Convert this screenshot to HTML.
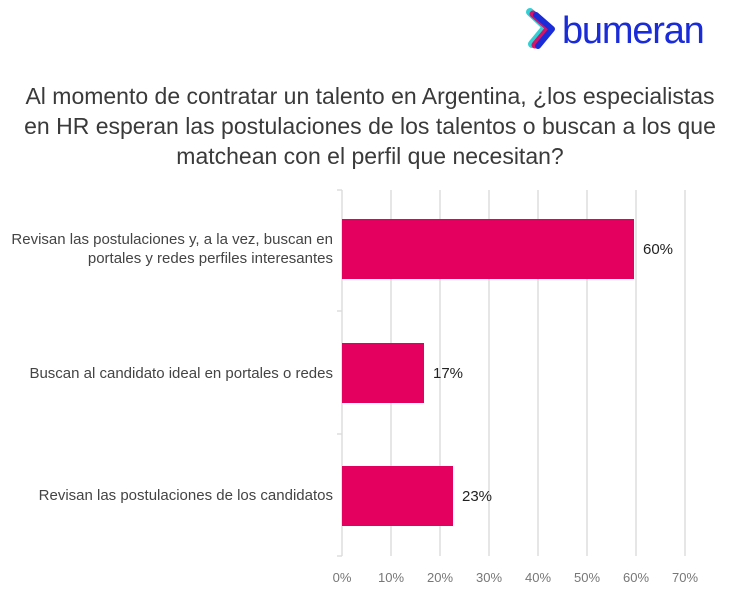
<html><head><style>
body{margin:0;width:730px;height:595px;background:#fff;font-family:"Liberation Sans",sans-serif;overflow:hidden;position:relative}
.t{position:absolute;left:0;width:740px;text-align:center;font-size:23px;color:#3a3a3a;line-height:30px;top:81px}
.l{position:absolute;font-size:15px;color:#444;text-align:right;line-height:19px}
.v{position:absolute;font-size:15px;color:#222}
.x{position:absolute;top:570px;font-size:13px;color:#777;width:40px;text-align:center}
</style></head><body>
<svg width="730" height="595" style="position:absolute;left:0;top:0">
<g stroke="#d9d9d9" stroke-width="1.3">
<line x1="391" y1="190" x2="391" y2="556"/><line x1="440" y1="190" x2="440" y2="556"/><line x1="489" y1="190" x2="489" y2="556"/><line x1="538" y1="190" x2="538" y2="556"/><line x1="587" y1="190" x2="587" y2="556"/><line x1="636" y1="190" x2="636" y2="556"/><line x1="685" y1="190" x2="685" y2="556"/>
<line x1="342" y1="190" x2="342" y2="556"/>
<line x1="337" y1="190" x2="342" y2="190"/><line x1="337" y1="311" x2="342" y2="311"/><line x1="337" y1="434" x2="342" y2="434"/><line x1="337" y1="556" x2="342" y2="556"/>
</g>
<g fill="#e3005f">
<rect x="342" y="219" width="292" height="60"/>
<rect x="342" y="343" width="82" height="60"/>
<rect x="342" y="466" width="111" height="60"/>
</g>
<path d="M530 12 L546 27 L532 44" fill="none" stroke="#2fd1d6" stroke-width="8" stroke-linejoin="round" stroke-linecap="round"/>
<path d="M533 14 L549 28 L535 45" fill="none" stroke="#e3005f" stroke-width="7" stroke-linejoin="round" stroke-linecap="round" opacity=".9"/>
<path d="M536 15 L552 29 L538 46" fill="none" stroke="#1a2bd8" stroke-width="6" stroke-linejoin="round" stroke-linecap="round"/>
<text x="562" y="43" font-family="Liberation Sans,sans-serif" font-size="38" fill="#1a2bd8" letter-spacing="-1.2">bumeran</text>
</svg>
<div class="t">Al momento de contratar un talento en Argentina, ¿los especialistas<br>en HR esperan las postulaciones de los talentos o buscan a los que<br>matchean con el perfil que necesitan?</div>
<div class="l" style="right:397px;top:230px">Revisan las postulaciones y, a la vez, buscan en<br>portales y redes perfiles interesantes</div>
<div class="l" style="right:397px;top:364px">Buscan al candidato ideal en portales o redes</div>
<div class="l" style="right:397px;top:486px">Revisan las postulaciones de los candidatos</div>
<div class="v" style="left:643px;top:241px">60%</div>
<div class="v" style="left:433px;top:365px">17%</div>
<div class="v" style="left:462px;top:488px">23%</div>
<div class="x" style="left:322px">0%</div><div class="x" style="left:371px">10%</div><div class="x" style="left:420px">20%</div><div class="x" style="left:469px">30%</div><div class="x" style="left:518px">40%</div><div class="x" style="left:567px">50%</div><div class="x" style="left:616px">60%</div><div class="x" style="left:665px">70%</div>
</body></html>
